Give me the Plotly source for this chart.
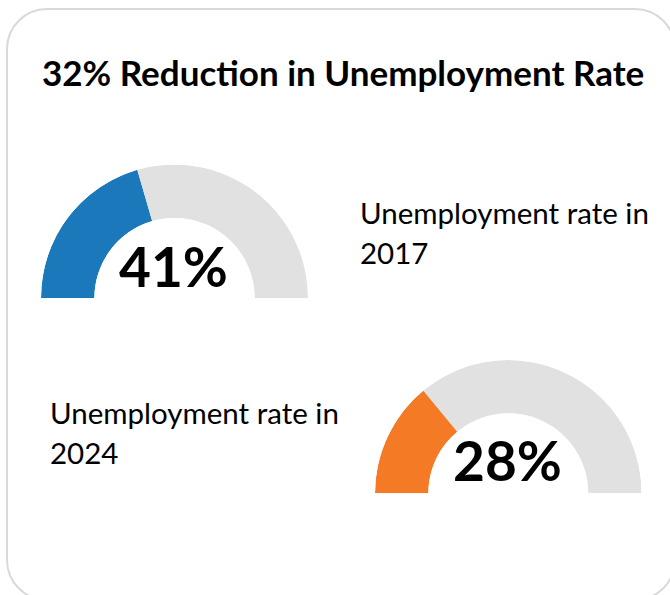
import plotly.graph_objects as go

# ---- data ----
years = ["2017", "2024"]
rates = [41, 28]
rate_labels = ["41%", "28%"]
fill_colors = ["#1b79bb", "#f47a26"]
track_color = "#e1e1e1"
title_text = "32% Reduction in Unemployment Rate"
label_prefix = "Unemployment rate in"

W, H = 670, 595


def px(x):
    return x / W


def py(y):
    return 1 - y / H


fig = go.Figure()

# gauge geometry (pixels): center x, baseline y, outer radius
gauges = [
    dict(cx=174.5, cy=298, r=133.5, polar="polar"),
    dict(cx=508.3, cy=493.3, r=133.3, polar="polar2"),
]

layout_polars = {}
for i, g in enumerate(gauges):
    rate = rates[i]
    span = 180.0
    fill_w = rate / 100 * span
    rest_w = span - fill_w
    fig.add_trace(go.Barpolar(
        r=[1, 1],
        theta=[fill_w / 2, fill_w + rest_w / 2],
        width=[fill_w, rest_w],
        base=[0, 0],
        marker=dict(color=[fill_colors[i], track_color], line=dict(width=0)),
        hoverinfo="skip",
        showlegend=False,
        subplot=g["polar"],
    ))
    layout_polars[g["polar"]] = dict(
        domain=dict(
            x=[px(g["cx"] - g["r"]), px(g["cx"] + g["r"])],
            y=[py(g["cy"]), py(g["cy"] - g["r"])],
        ),
        sector=[0, 180],
        hole=0.6,
        bgcolor="rgba(0,0,0,0)",
        radialaxis=dict(visible=False, range=[0, 1]),
        angularaxis=dict(visible=False, rotation=180, direction="clockwise"),
        bargap=0,
    )

annotations = []
# title
annotations.append(dict(
    text=title_text, x=px(40), y=py(71.5), xref="paper", yref="paper",
    xanchor="left", yanchor="middle", showarrow=False,
    font=dict(family="Lato", size=35, color="#000000", weight="bold"),
))
# big values
val_pos = [(173.5, 265.5), (507.8, 459.5)]
for i, (x, y) in enumerate(val_pos):
    annotations.append(dict(
        text=rate_labels[i], x=px(x), y=py(y), xref="paper", yref="paper",
        xanchor="center", yanchor="middle", showarrow=False,
        font=dict(family="Lato", size=55, color="#000000", weight="bold"),
    ))
# labels
lab_pos = [(358, 212.0, 252.0), (48, 412.0, 452.0)]
for i, (x, y1, y2) in enumerate(lab_pos):
    for txt, yy in [(label_prefix, y1), (years[i], y2)]:
        annotations.append(dict(
            text=txt, x=px(x), y=py(yy), xref="paper", yref="paper",
            xanchor="left", yanchor="middle", showarrow=False,
            font=dict(family="Lato", size=29.5, color="#000000"),
        ))

# card border (rounded rectangle)
x0, x1, y0, y1, rr = 7, 675, 9, 600, 40
k = 0.5523 * rr


def P(x, y):
    return f"{px(x):.5f},{py(y):.5f}"


path = (
    f"M {P(x0 + rr, y0)} L {P(x1 - rr, y0)} "
    f"C {P(x1 - rr + k, y0)} {P(x1, y0 + rr - k)} {P(x1, y0 + rr)} "
    f"L {P(x1, y1 - rr)} "
    f"C {P(x1, y1 - rr + k)} {P(x1 - rr + k, y1)} {P(x1 - rr, y1)} "
    f"L {P(x0 + rr, y1)} "
    f"C {P(x0 + rr - k, y1)} {P(x0, y1 - rr + k)} {P(x0, y1 - rr)} "
    f"L {P(x0, y0 + rr)} "
    f"C {P(x0, y0 + rr - k)} {P(x0 + rr - k, y0)} {P(x0 + rr, y0)} Z"
)

fig.update_layout(
    width=W, height=H,
    margin=dict(l=0, r=0, t=0, b=0),
    paper_bgcolor="white",
    plot_bgcolor="white",
    annotations=annotations,
    shapes=[dict(type="path", path=path, xref="paper", yref="paper",
                 line=dict(color="#d9d9d9", width=2), layer="below")],
    **layout_polars,
)

fig.write_html("out.html", config=dict(displayModeBar=False))
